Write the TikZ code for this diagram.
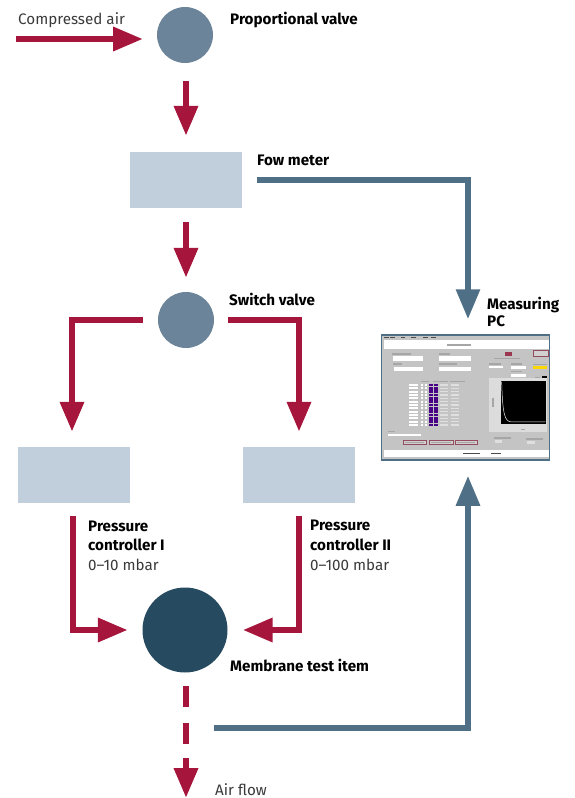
\documentclass[tikz,border=0pt]{standalone}
\usepackage{fontspec}
\setmainfont{Fira Sans}
\usetikzlibrary{arrows.meta}
\definecolor{flowred}{HTML}{A6163C}
\definecolor{sigblue}{HTML}{4F6F87}
\definecolor{valveblue}{HTML}{6C8499}
\definecolor{itemblue}{HTML}{264A60}
\definecolor{boxblue}{HTML}{C1CFDC}
\definecolor{txtgray}{HTML}{3A3A3A}
\definecolor{panelgray}{HTML}{C4C4C4}
\tikzset{
  valve/.style={circle,fill=valveblue,minimum size=56pt,inner sep=0pt},
  item/.style={circle,fill=itemblue,minimum size=85pt,inner sep=0pt},
  unitbox/.style={rectangle,fill=boxblue,minimum width=112pt,minimum height=56pt,inner sep=0pt},
  pcbox/.style={rectangle,draw=sigblue,line width=1.5pt,fill=panelgray,minimum width=168pt,minimum height=125pt,inner sep=0pt},
  flow/.style={draw=flowred,line width=6.5pt,-{Triangle[length=30pt,width=23pt,sep=0pt]}},
  flowplain/.style={draw=flowred,line width=6.5pt},
  signal/.style={draw=sigblue,line width=6pt,-{Triangle[length=30pt,width=23pt,sep=0pt]}},
  lab/.style={anchor=base west,inner sep=0pt,font=\fontsize{15.2}{17}\selectfont,text=txtgray},
  blab/.style={anchor=base west,inner sep=0pt,font=\fontsize{15.2}{17}\selectfont\bfseries,text=black},
  field/.style={fill=white,draw=none},
  tiny/.style={fill=gray!70,draw=none},
  btn/.style={fill=panelgray!80!white,draw=flowred!50!gray,line width=0.3pt}
}
\begin{document}
\begin{tikzpicture}[x=1pt,y=-1pt]
\useasboundingbox (0,0) rectangle (574,798);
% nodes
\node[valve] (pv) at (185,35) {};
\node[unitbox] (fm) at (186,180) {};
\node[valve] (sv) at (186,320) {};
\node[unitbox] (pc1) at (74,475) {};
\node[unitbox] (pc2) at (299,475) {};
\node[item] (mt) at (185,630) {};
\node[pcbox] (pc) at (465.5,397.5) {};
\coordinate (airin) at (16,39);
\coordinate (airend) at (143,39);
\coordinate (outa) at (186,686);
\coordinate (outb) at (186,707);
\coordinate (outc) at (186,723);
\coordinate (outd) at (186,744);
\coordinate (oute) at (186,758);
\coordinate (outf) at (186,798);
\coordinate (sigstart) at (214,728);
% red connectors
\draw[flow] (airin) -- (airend);
\draw[flow,shorten <=18pt,shorten >=16pt] (pv.south -| 186,0) -- (fm.north);
\draw[flow,shorten <=14pt,shorten >=14pt] (fm.south) -- (sv.north);
\draw[flow,shorten <=15pt,shorten >=15pt] (sv.west) -| ([xshift=-2pt]pc1.north);
\draw[flow,shorten <=14pt,shorten >=15pt] (sv.east) -| (pc2.north);
\draw[flow,shorten <=13pt,shorten >=14.5pt] ([xshift=-1pt]pc1.south) |- (mt.west);
\draw[flow,shorten <=13pt,shorten >=15pt] (pc2.south) |- (mt.east);
\draw[flowplain] (outa) -- (outb);
\draw[flowplain] (outc) -- (outd);
\draw[flow] (oute) -- (outf);
% blue connectors
\draw[signal,shorten <=15pt,shorten >=15pt] (fm.east) -| ([xshift=2.5pt]pc.north);
\draw[signal,shorten >=15pt] (sigstart) -| ([xshift=2.5pt]pc.south);
% labels
\node[lab] (t1) at (18,24) {Compressed air};
\node[blab] (t2) at (230,24) {Proportional valve};
\node[blab] (t3) at (257,165) {Fow meter};
\node[blab] (t4) at (229,305) {Switch valve};
\node[blab] (t5) at (487,309) {Measuring};
\node[blab] (t6) at (487,326) {PC};
\node[blab] (t7) at (88,531) {Pressure};
\node[blab] (t8) at (88,550) {controller I};
\node[lab] (t9) at (88,570) {0–10 mbar};
\node[blab] (t10) at (310,530) {Pressure};
\node[blab] (t11) at (310,550) {controller II};
\node[lab] (t12) at (310,570) {0–100 mbar};
\node[blab] (t13) at (230,671) {Membrane test item};
\node[lab] (t14) at (215,795) {Air flow};
% screenshot on the measuring PC (coordinates in 3x crop pixels)
\begin{scope}[shift={(374,325)},x=0.3333pt,y=-0.3333pt]
  \fill[field] (30,45) rectangle (525,72);
  \fill[tiny] (220,57) rectangle (290,62);
  \foreach \x in {30,48,80,112,148,172} \fill[gray!60!black] (\x,36) rectangle ++(14,4);
  \fill[field] (30,375) rectangle (525,396);
  \fill[gray!60!black] (268,383) rectangle (318,388);
  \fill[gray!60!black] (352,383) rectangle (382,388);
  % form fields
  \fill[tiny] (55,84) rectangle (110,89);
  \fill[field] (58,93) rectangle (148,107);
  \fill[tiny] (195,84) rectangle (228,89);
  \fill[field] (195,93) rectangle (292,107);
  \fill[tiny] (58,115) rectangle (85,120);
  \fill[field] (60,125) rectangle (148,139);
  \fill[tiny] (195,115) rectangle (250,120);
  \fill[field] (195,125) rectangle (292,139);
  % top right controls
  \fill[flowred!70!gray] (393,80) rectangle (413,92);
  \fill[tiny] (360,98) rectangle (438,103);
  \fill[btn] (478,76) rectangle (522,92);
  \fill[tiny] (345,115) rectangle (380,119);
  \fill[field] (345,122) rectangle (388,130);
  \fill[tiny] (412,115) rectangle (445,119);
  \fill[field] (412,122) rectangle (456,133);
  \fill[tiny] (412,138) rectangle (445,142);
  \fill[field] (412,146) rectangle (456,155);
  \fill[tiny] (478,116) rectangle (518,120);
  \fill[yellow!75!orange] (478,124) rectangle (520,133);
  \fill[tiny] (484,155) rectangle (498,159);
  \fill[black] (503,153) rectangle (518,160);
  % table
  \fill[tiny] (142,168) rectangle (164,172);
  \fill[tiny] (178,168) rectangle (222,172);
  \fill[tiny] (228,168) rectangle (272,172);
  \foreach \y in {180,190,...,300}{
    \fill[field] (106,\y-3) rectangle (132,\y+3);
    \fill[field] (140,\y-3) rectangle (148,\y+3);
    \fill[field] (153,\y-3) rectangle (160,\y+3);
    \fill[violet!70!blue!80!black] (166,\y-4) rectangle (176,\y+4);
    \fill[violet!70!blue!80!black] (181,\y-4) rectangle (191,\y+4);
    \fill[gray!25] (198,\y-2) rectangle (222,\y+2);
    \fill[gray!25] (232,\y-2) rectangle (256,\y+2);
  }
  % plot
  \fill[panelgray!60!white] (345,160) rectangle (520,322);
  \fill[black] (380,168) rectangle (515,296);
  \draw[white!85!gray,line width=0.5pt] (383,170) .. controls (386,270) and (392,291) .. (414,291) -- (514,291);
  \fill[tiny] (440,312) rectangle (452,316);
  \fill[tiny] (355,218) rectangle (359,245);
  % bottom
  \fill[tiny] (42,318) rectangle (62,322);
  \fill[field] (42,326) rectangle (142,333);
  \foreach \a/\b in {88/156,166/236,244/310}{
    \fill[btn] (\a,344) rectangle (\b,358);
    \fill[tiny] (\a+6,350) rectangle (\b-6,353);
  }
  \fill[tiny] (360,337) rectangle (410,341);
  \fill[gray!25] (362,346) rectangle (385,354);
  \fill[tiny] (455,340) rectangle (508,344);
  \fill[gray!25] (460,348) rectangle (482,356);
\end{scope}
\end{tikzpicture}
\end{document}
